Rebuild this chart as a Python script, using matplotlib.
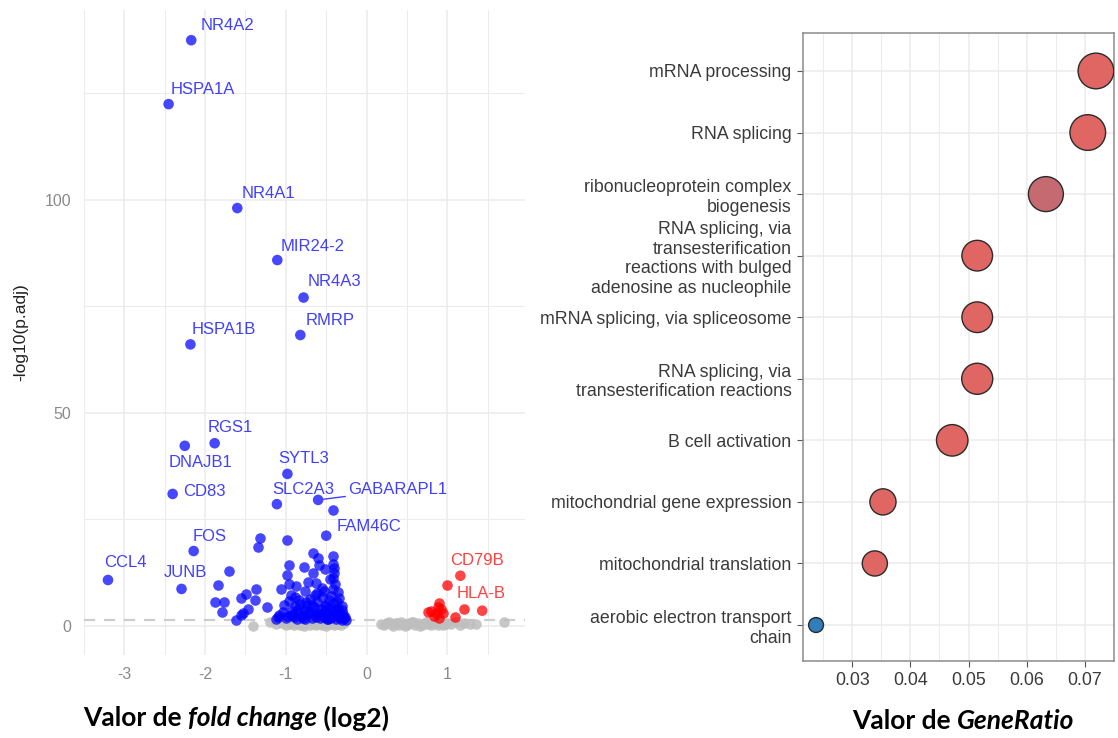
import numpy as np
import matplotlib
matplotlib.use("Agg")
import matplotlib.pyplot as plt
from matplotlib.colors import LinearSegmentedColormap, Normalize

# ---------------- volcano data ----------------
label_genes = ["NR4A2", "HSPA1A", "NR4A1", "MIR24-2", "NR4A3", "RMRP", "HSPA1B",
               "RGS1", "DNAJB1", "SYTL3", "CD83", "SLC2A3", "GABARAPL1", "FAM46C",
               "FOS", "CCL4", "JUNB", "CD79B", "HLA-B"]
label_lfc = [-2.17, -2.45, -1.60, -1.105, -0.78, -0.82, -2.18,
             -1.88, -2.25, -0.98, -2.40, -1.11, -0.60, -0.50,
             -2.14, -3.20, -2.29, 1.16, 1.43]
label_p = [137.5, 122.5, 98.1, 85.9, 77.1, 68.3, 66.1,
           42.9, 42.3, 35.7, 31.0, 28.6, 29.6, 21.2,
           17.6, 10.8, 8.7, 11.8, 3.6]
label_dir = ["down"] * 17 + ["up"] * 2

down_lfc = [-0.41, -1.32, -1.35, -0.99, -0.66, -1.70, -0.96, -0.78, -0.59, -0.41,
            -0.51, -0.98, -0.66, -0.42, -0.72, -0.96, -1.06, -1.37, -1.49, -0.94,
            -0.41, -0.76, -1.55, -1.38, -1.23, -1.47, -0.84, -0.61, -1.02, -0.47,
            -0.37, -1.61, -1.53, -1.10, -0.98, -1.84, -1.88, -1.77, -1.79, -1.55,
            -0.92, -0.90, -0.88, -0.86, -0.84, -0.82, -0.80, -0.78, -0.76, -0.74,
            -0.72, -0.70, -0.69, -0.67, -0.65, -0.63, -0.61, -0.60, -0.58, -0.56,
            -0.55, -0.53, -0.52, -0.50, -0.49, -0.47, -0.46, -0.44, -0.43, -0.41,
            -0.40, -0.39, -0.38, -0.37, -0.36, -0.35, -0.34, -0.33, -0.32, -0.31,
            -0.30, -0.29, -0.28, -0.27, -0.26, -0.96, -0.94, -1.00, -1.04, -0.87,
            -0.63, -0.55, -0.45, -0.40, -0.42, -0.60, -1.12, -1.08, -0.40,
            -0.91, -0.85, -0.79, -0.73, -0.68, -0.62, -0.57, -0.51, -0.45, -0.39,
            -0.34, -0.30, -0.88, -0.75, -0.64, -0.53, -0.48, -0.36]
down_p = [27.2, 20.6, 18.6, 20.2, 17.1, 12.9, 14.3, 13.8, 14.3, 14.6,
          13.3, 12.0, 12.5, 11.2, 10.4, 9.9, 8.6, 8.6, 7.6, 7.3,
          8.8, 8.3, 6.5, 6.1, 4.5, 4.0, 6.1, 7.7, 4.9, 6.1,
          5.7, 1.4, 3.0, 2.2, 2.3, 9.6, 5.7, 5.7, 3.4, 2.6,
          3.5, 2.0, 4.6, 1.7, 3.0, 5.2, 2.4, 3.8, 1.6, 4.9,
          2.8, 6.3, 3.4, 1.9, 4.4, 2.5, 5.6, 3.1, 1.8, 4.0,
          6.8, 2.2, 3.6, 5.0, 1.6, 2.9, 4.3, 7.0, 2.0, 3.3,
          5.3, 9.8, 1.7, 2.6, 4.1, 3.0, 6.5, 1.9, 2.4, 3.7,
          1.5, 2.8, 1.8, 2.2, 1.5, 5.8, 2.6, 1.8, 3.3, 9.5,
          10.0, 9.0, 11.0, 13.5, 16.5, 16.0, 1.6, 2.7, 12.4,
          2.6, 3.9, 1.9, 3.2, 5.0, 2.2, 2.9, 4.6, 1.8, 3.9,
          2.1, 4.6, 6.9, 5.6, 7.3, 8.2, 1.6, 7.9]

up_lfc = [0.99, 0.80, 0.86, 0.90, 0.92, 0.88, 0.76, 0.94, 1.09, 1.21, 0.84, 0.89]
up_p = [9.6, 3.6, 3.0, 5.3, 3.9, 4.5, 3.4, 3.0, 2.2, 3.9, 2.4, 1.8]

ns_lfc = [-1.41, -1.19, -1.12, -1.05, -1.00, -0.97, -0.95, -0.92, -0.90, -0.88,
          -0.85, -0.83, -0.80, -0.78, -0.75, -0.72, -0.70, -0.68, -0.65, -0.62,
          -0.60, -0.58, -0.55, -0.52, -0.50, -0.48, -0.45, -0.42, -0.40, -0.38,
          -0.35, -0.32, -0.30, -0.28,
          0.18, 0.22, 0.25, 0.30, 0.33, 0.36, 0.40, 0.43, 0.46, 0.50,
          0.53, 0.56, 0.60, 0.63, 0.66, 0.70, 0.73, 0.76, 0.80, 0.83,
          0.86, 0.90, 0.95, 1.00, 1.05, 1.10, 1.15, 1.20, 1.28, 1.35, 1.70,
          0.28, 0.38, 0.48, 0.58, 0.68, 0.78, 0.88, 0.98]
ns_p = [0.1, 1.0, 0.4, 0.8, 0.2, 1.1, 0.5, 0.9, 0.2, 0.7,
        1.0, 0.3, 0.8, 0.1, 0.6, 1.1, 0.3, 0.9, 0.5, 0.2,
        1.0, 0.6, 0.3, 0.9, 0.1, 0.7, 0.4, 1.1, 0.2, 0.8,
        0.5, 0.3, 0.9, 0.6,
        0.5, 0.2, 0.8, 0.4, 0.1, 0.7, 0.3, 0.9, 0.5, 0.2,
        0.6, 1.0, 0.3, 0.7, 0.1, 0.5, 0.9, 0.4, 0.2, 0.8,
        0.6, 1.1, 0.3, 0.7, 0.5, 0.9, 0.2, 0.6, 0.4, 0.5, 1.0,
        0.9, 0.6, 0.1, 1.0, 0.3, 0.8, 0.2, 0.4]

p_cutoff = 1.3

# ---------------- GO dot plot data ----------------
go_terms = ["mRNA processing", "RNA splicing",
            "ribonucleoprotein complex\nbiogenesis",
            "RNA splicing, via\ntransesterification\nreactions with bulged\nadenosine as nucleophile",
            "mRNA splicing, via spliceosome",
            "RNA splicing, via\ntransesterification reactions",
            "B cell activation", "mitochondrial gene expression",
            "mitochondrial translation", "aerobic electron transport\nchain"]
gene_ratio = [0.0719, 0.0705, 0.0633, 0.0515, 0.0515, 0.0515, 0.0472, 0.0353, 0.0339, 0.0238]
go_count = [61, 61, 59, 48, 48, 49, 50, 38, 36, 20]
go_padj = [1.2e-9, 1.5e-9, 4.0e-6, 1.0e-9, 1.0e-9, 1.0e-9, 1.0e-9, 1.1e-9, 1.1e-9, 2.5e-5]

# ---------------- figure ----------------
fig = plt.figure(figsize=(11.18, 7.38), dpi=100)
plt.rcParams['font.family'] = ['Liberation Sans', 'DejaVu Sans']
plt.rcParams['axes.unicode_minus'] = False

BLUE = "#0000FF"
RED = "#FF0000"
GREY = "#BEBEBE"
GRID = "#EBEBEB"

ax1 = fig.add_axes([0.0749, 0.1125, 0.3947, 0.874])
ax1.set_xlim(-3.45, 1.96)
ax1.set_ylim(-6.8, 144.6)
ax1.set_xticks([-3, -2, -1, 0, 1])
ax1.set_xticks(np.arange(-3.5, 2.0, 0.5), minor=True)
ax1.set_yticks([0, 50, 100])
ax1.set_yticks([25, 75, 125], minor=True)
ax1.grid(True, which='major', color=GRID, lw=1.1)
ax1.grid(True, which='minor', color=GRID, lw=0.7)
ax1.set_axisbelow(True)
for s in ax1.spines.values():
    s.set_visible(False)
ax1.tick_params(which='both', length=0, labelsize=11.5, labelcolor='#8A8A8A', pad=9)
ax1.set_ylabel("-log10(p.adj)", fontsize=12.5, color='#222222', labelpad=12)

ax1.axhline(p_cutoff, color='#CDCDCD', lw=1.6, ls=(0, (5, 4)), zorder=1)
ax1.scatter(ns_lfc, ns_p, s=58, color=GREY, alpha=0.85, lw=0, zorder=2)
ax1.scatter(down_lfc, down_p, s=58, color=BLUE, alpha=0.72, lw=0, zorder=3)
ax1.scatter(up_lfc, up_p, s=58, color=RED, alpha=0.75, lw=0, zorder=3)
lab_col = [BLUE if d == "down" else RED for d in label_dir]
ax1.scatter(label_lfc, label_p, s=58, c=lab_col, alpha=0.72, lw=0, zorder=3)

# label offsets in pixels (dx to left edge, dy to text centre)
offsets = {"NR4A2": (9, 15), "HSPA1A": (2, 15), "NR4A1": (4, 15), "MIR24-2": (3, 14),
           "NR4A3": (4, 16), "RMRP": (5, 15), "HSPA1B": (1, 15), "RGS1": (-7, 16),
           "DNAJB1": (-16, -17), "SYTL3": (-9, 15), "CD83": (10, 2), "SLC2A3": (-5, 15),
           "GABARAPL1": (30, 10), "FAM46C": (10, 9), "FOS": (-1, 15), "CCL4": (-4, 17),
           "JUNB": (-18, 16), "CD79B": (-10, 15), "HLA-B": (-26, 17)}
for g, x, y, c in zip(label_genes, label_lfc, label_p, lab_col):
    dx, dy = offsets[g]
    kw = {}
    if g == "GABARAPL1":
        kw = dict(arrowprops=dict(arrowstyle='-', color=c, alpha=0.75, lw=1.0,
                                  shrinkA=0, shrinkB=4))
    ax1.annotate(g, (x, y), xytext=(dx, dy), textcoords='offset pixels',
                 ha='left', va='center', fontsize=12, color=c, alpha=0.75, **kw)

# ---------------- dot plot ----------------
ax2 = fig.add_axes([0.718, 0.1043, 0.2784, 0.851])
n = len(go_terms)
ypos = [n - 1 - i for i in range(n)]
cmap = LinearSegmentedColormap.from_list("enr", ["#e06663", "#327eba"])
norm = Normalize(min(go_padj), max(go_padj))
cmin, cmax = min(go_count), max(go_count)
sizes = [115 + (c - cmin) / (cmax - cmin) * 545 for c in go_count]
ax2.scatter(gene_ratio, ypos, s=sizes, c=go_padj, cmap=cmap, norm=norm,
            edgecolors='#2b2b2b', linewidths=1.0, zorder=3)
ax2.set_xlim(0.02151, 0.07405)
ax2.set_ylim(-0.585, n - 1 + 0.617)
ax2.set_xticks([0.03, 0.04, 0.05, 0.06, 0.07])
ax2.set_xticklabels(["0.03", "0.04", "0.05", "0.06", "0.07"])
ax2.set_xticks(np.arange(0.025, 0.0751, 0.01), minor=True)
ax2.set_yticks(ypos)
ax2.set_yticklabels(go_terms)
ax2.grid(True, which='major', color=GRID, lw=1.1)
ax2.grid(True, which='minor', axis='x', color=GRID, lw=0.7)
ax2.set_axisbelow(True)
for s in ax2.spines.values():
    s.set_color('#8C8C8C')
    s.set_linewidth(1.1)
ax2.tick_params(which='major', length=4, color='#555555', labelsize=12.8,
                labelcolor='#3A3A3A', pad=4)
ax2.tick_params(which='minor', length=0)

# ---------------- bold mixed-style axis titles ----------------
def mixed_title(xc, y, parts, size=16):
    renderer = fig.canvas.get_renderer()
    texts = []
    for s, st in parts:
        t = fig.text(0, y, s, fontsize=size, fontweight='bold', fontstyle=st,
                     family=['Lato', 'DejaVu Sans'], color='black', va='center')
        texts.append(t)
    widths = [t.get_window_extent(renderer).width for t in texts]
    W = fig.bbox.width
    x0 = xc * W - sum(widths) / 2
    for t, w in zip(texts, widths):
        t.set_x(x0 / W)
        x0 += w

mixed_title(236 / 1118, 1 - 718 / 738,
            [("Valor de\u00a0", 'normal'), ("fold change", 'italic'), ("\u00a0(log2)", 'normal')],
            size=19)
mixed_title(963 / 1118, 1 - 721 / 738,
            [("Valor de\u00a0", 'normal'), ("GeneRatio", 'italic')], size=19)

fig.savefig("out.png", dpi=100)
